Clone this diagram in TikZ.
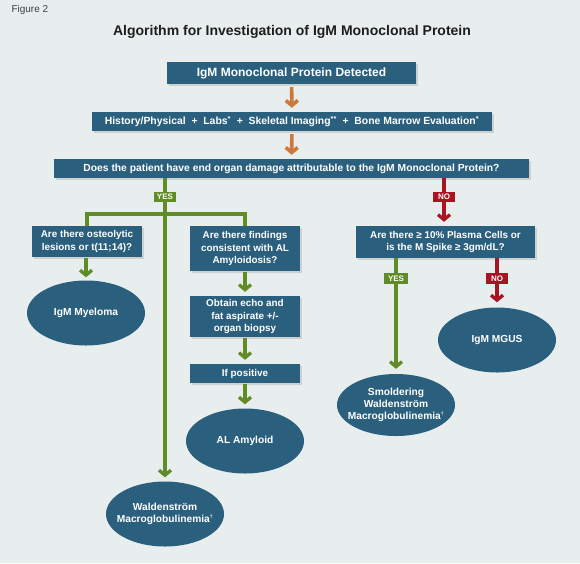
\documentclass[tikz,border=0pt]{standalone}
\usepackage{fontspec}
\setmainfont{Liberation Sans}
\usetikzlibrary{arrows.meta,shadows,shapes.geometric}
\definecolor{boxblue}{RGB}{43,95,126}
\definecolor{bgcol}{RGB}{231,238,237}
\definecolor{grn}{RGB}{96,140,40}
\definecolor{rd}{RGB}{168,20,34}
\definecolor{org}{RGB}{204,122,60}
\definecolor{titlecol}{RGB}{30,30,30}
\begin{document}
\begin{tikzpicture}[x=1pt,y=-1pt,
  boxstyle/.style={draw=none,fill=boxblue,text=white,font=\bfseries\fontsize{9.9}{12.6}\selectfont,
    align=center,inner sep=0pt,drop shadow={shadow xshift=2pt,shadow yshift=-2pt,opacity=0.25}},
  ellstyle/.style={ellipse,draw=none,fill=boxblue,text=white,font=\bfseries\fontsize{10.2}{12}\selectfont,
    align=center,inner xsep=-20pt,inner ysep=-8pt,minimum width=118pt,minimum height=65pt},
  lbl/.style={text=white,font=\bfseries\fontsize{8}{8}\selectfont,inner sep=0pt,minimum width=22pt,minimum height=10pt},
  garrow/.style={draw=grn,line width=3.3pt,-{Straight Barb[length=5pt,width=12pt]}},
  gline/.style={draw=grn,line width=3.3pt},
  rarrow/.style={draw=rd,line width=3.3pt,-{Straight Barb[length=5pt,width=12pt]}},
  oarrow/.style={draw=org,line width=3.6pt,-{Straight Barb[length=5pt,width=12pt]}}
]
\fill[bgcol] (0,0) rectangle (580,563);
\useasboundingbox (0,0) rectangle (580,563);

\node[anchor=west,text=titlecol!85,font=\fontsize{10}{12}\selectfont] (fig) at (8,10) {Figure 2};
\node[text=titlecol,font=\bfseries\fontsize{14}{16}\selectfont] (title) at (292,32) {Algorithm for Investigation of IgM Monoclonal Protein};

\node[boxstyle,minimum width=249pt,minimum height=22pt,font=\bfseries\fontsize{12}{14}\selectfont] (b1) at (291.5,73) {IgM Monoclonal Protein Detected};
\node[boxstyle,minimum width=400pt,minimum height=19pt,font=\bfseries\fontsize{10.4}{12}\selectfont] (b2) at (292,121.5)
  {History/Physical\ \ +\ \ Labs\textsuperscript{*}\ \ +\ \ Skeletal Imaging\textsuperscript{**}\ \ +\ \ Bone Marrow Evaluation\textsuperscript{*}};
\node[boxstyle,minimum width=475pt,minimum height=19pt,font=\bfseries\fontsize{10.3}{12}\selectfont] (b3) at (291.5,168.5)
  {Does the patient have end organ damage attributable to the IgM Monoclonal Protein?};

\node[boxstyle,minimum width=110pt,minimum height=31pt] (q1) at (87,241.5) {Are there osteolytic\\lesions or t(11;14)?};
\node[boxstyle,minimum width=110pt,minimum height=45pt] (q2) at (245,248.5) {Are there findings\\consistent with AL\\Amyloidosis?};
\node[boxstyle,minimum width=110pt,minimum height=41pt] (q2b) at (245,316.5) {Obtain echo and\\fat aspirate +/-\\organ biopsy};
\node[boxstyle,minimum width=110pt,minimum height=19pt] (q2c) at (245,373.5) {If positive};
\node[boxstyle,minimum width=179pt,minimum height=32pt] (q3) at (445.5,242) {Are there ≥ 10\% Plasma Cells or\\is the M Spike ≥ 3gm/dL?};

\node[ellstyle] (mye) at (86,313) {IgM Myeloma};
\node[ellstyle] (amy) at (245,441) {AL Amyloid};
\node[ellstyle] (wald) at (165,514) {Waldenstr\"om\\Macroglobulinemia\textsuperscript{\fontsize{5}{5}\selectfont †}};
\node[ellstyle] (mgus) at (497,340) {IgM MGUS};
\node[ellstyle,minimum height=62pt] (smol) at (396,405) {Smoldering\\Waldenstr\"om\\Macroglobulinemia\textsuperscript{\fontsize{5}{5}\selectfont †}};

\coordinate (split) at (165,214);

% orange arrows
\draw[oarrow,shorten <=3pt,shorten >=4pt] (b1) -- (b2);
\draw[oarrow,shorten <=3pt,shorten >=4pt] (b2) -- (b3);

% green tree
\draw[garrow,shorten >=4pt] (b3.south -| wald) -- (wald);
\draw[gline] (q1.north) -- (q1.north |- split) -- (q2.north |- split) -- (q2.north);
\draw[garrow,shorten <=1pt,shorten >=3pt] (q1.south -| mye) -- (mye);
\draw[garrow,shorten <=1pt,shorten >=4pt] (q2) -- (q2b);
\draw[garrow,shorten <=1pt,shorten >=4pt] (q2b) -- (q2c);
\draw[garrow,shorten <=1pt,shorten >=4pt] (q2c) -- (amy);

% red
\draw[rarrow,shorten >=4pt] (b3.south -| q3) ++(-1.5,0) coordinate (rtop) -- (rtop |- q3.north);
\draw[rarrow,shorten >=5pt] (q3.south -| mgus) -- (mgus);
\draw[garrow,shorten >=5pt] (q3.south -| smol) -- (smol);

% labels
\node[lbl,fill=grn] (yes1) at (165,197) {YES};
\node[lbl,fill=rd] (no1) at (444,197) {NO};
\node[lbl,fill=grn,minimum width=24pt,minimum height=11pt] (yes2) at (396,278.5) {YES};
\node[lbl,fill=rd,minimum width=22pt,minimum height=11pt] (no2) at (497,278.5) {NO};
\end{tikzpicture}
\end{document}
